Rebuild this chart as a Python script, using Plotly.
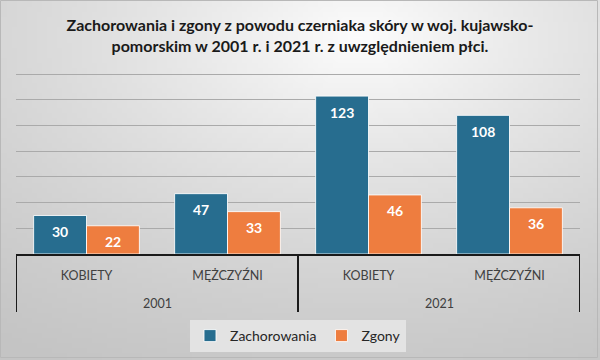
import base64, struct, zlib, math
import plotly.graph_objects as go

years = ["2001", "2021"]
sexes = ["KOBIETY", "MĘŻCZYŹNI", "KOBIETY", "MĘŻCZYŹNI"]
year_of_bar = ["2001", "2001", "2021", "2021"]
zachorowania = [30, 47, 123, 108]
zgony = [22, 33, 46, 36]
series_names = ["Zachorowania", "Zgony"]
colors = ["#276d8f", "#ee7d3f"]

W, H = 600, 360
ML, MR, MT, MB = 16, 20, 73, 106
PW, PH = W - ML - MR, H - MT - MB

# background gradient image (data URI)
def make_png(w, h):
    rows = b""
    for j in range(h):
        row = b"\x00"
        for i in range(w):
            dx = i / (w - 1) - 0.6
            dy = (j / (h - 1) - 0.1)
            d = math.sqrt(dx * dx + dy * dy)
            g = int(max(196, min(252, 253 - 75 * d + 20 * d * d)))
            row += bytes([g, g, g])
        rows += row
    def chunk(t, data):
        c = struct.pack(">I", len(data)) + t + data
        return c + struct.pack(">I", zlib.crc32(t + data) & 0xffffffff)
    png = b"\x89PNG\r\n\x1a\n"
    png += chunk(b"IHDR", struct.pack(">IIBBBBB", w, h, 8, 2, 0, 0, 0))
    png += chunk(b"IDAT", zlib.compress(rows, 9))
    png += chunk(b"IEND", b"")
    return "data:image/png;base64," + base64.b64encode(png).decode()

bg = make_png(120, 72)

xpos = list(range(len(sexes)))

fig = go.Figure()
for name, vals, col in zip(series_names, [zachorowania, zgony], colors):
    fig.add_trace(go.Bar(
        x=xpos, y=vals, name=name,
        marker=dict(color=col, line=dict(color="rgba(255,255,255,0.85)", width=1)),
    ))

annotations = []
for k, vals in enumerate([zachorowania, zgony]):
    for xi, v in zip(xpos, vals):
        annotations.append(dict(
            x=xi, y=v, text=f"<b>{v}</b>", showarrow=False,
            xshift=(-26.5 if k == 0 else 26.5), yshift=-16,
            font=dict(family="Lato", size=14, color="white"),
            xref="x", yref="y",
        ))
# year group labels
shapes = []
for yr in years:
    idx = [i for i, y in enumerate(year_of_bar) if y == yr]
    annotations.append(dict(
        x=sum(idx) / len(idx), y=-(303 - (MT + PH)) / PH, xref="x", yref="paper",
        text=yr, showarrow=False, yanchor="middle",
        font=dict(family="Lato", size=12.5, color="#404040"),
    ))
# group dividers
bounds = [-0.5] + [i + 0.5 for i in range(len(year_of_bar) - 1) if year_of_bar[i] != year_of_bar[i + 1]] + [len(year_of_bar) - 0.5]
for b in bounds:
    shapes.append(dict(
        type="line", xref="x", yref="paper", x0=b, x1=b,
        y0=0, y1=-(312 - (MT + PH)) / PH,
        line=dict(color="#1a1a1a", width=2), layer="above",
    ))
shapes.append(dict(
    type="rect", xref="paper", yref="paper",
    x0=-ML / PW + 0.5 / PW, x1=1 + (MR - 2.5) / PW,
    y0=-(MB - 2.5) / PH, y1=1 + (MT - 0.5) / PH,
    line=dict(color="#b8b8b8", width=1), layer="above",
))

fig.update_layout(
    width=W, height=H,
    margin=dict(l=ML, r=MR, t=MT, b=MB, autoexpand=False),
    paper_bgcolor="#e6e6e6",
    plot_bgcolor="rgba(0,0,0,0)",
    bargap=0.25, bargroupgap=0,
    barmode="group",
    title=dict(
        text="<b>Zachorowania i zgony z powodu czerniaka skóry w woj. kujawsko-<br>pomorskim w 2001 r. i 2021 r. z uwzględnieniem płci.</b>",
        x=0.5, xanchor="center", y=0.914, yanchor="top",
        font=dict(family="Lato", size=16, color="#1a1a1a"),
    ),
    font=dict(family="Lato", size=13, color="#404040"),
    showlegend=True,
    legend=dict(
        orientation="h", x=0.5, xanchor="center", y=-(320 - (MT + PH)) / PH, yanchor="top",
        bgcolor="#e3e3e3", font=dict(family="Lato", size=14, color="#262626"),
        traceorder="normal", itemwidth=30,
    ),
    images=[dict(
        source=bg, xref="paper", yref="paper",
        x=-ML / PW, y=1 + MT / PH, sizex=W / PW, sizey=H / PH,
        xanchor="left", yanchor="top", sizing="stretch", layer="below",
    )],
    shapes=shapes,
    annotations=annotations,
)

fig.update_yaxes(
    range=[0, 141], dtick=20, showgrid=True, gridcolor="#aaaaaa", gridwidth=1,
    showticklabels=False, zeroline=False, showline=False, fixedrange=True,
    automargin=False,
)
fig.update_xaxes(
    range=[-0.5, len(sexes) - 0.5], tickvals=xpos, ticktext=sexes,
    showline=True, linecolor="#1a1a1a", linewidth=2,
    tickfont=dict(family="Lato", size=12.5, color="#404040"),
    ticks="", ticklabelstandoff=9, showgrid=False, zeroline=False, automargin=False,
    fixedrange=True,
)

fig.write_html("out.html", config={"displayModeBar": False},
               post_script="document.body.style.margin='0';")
